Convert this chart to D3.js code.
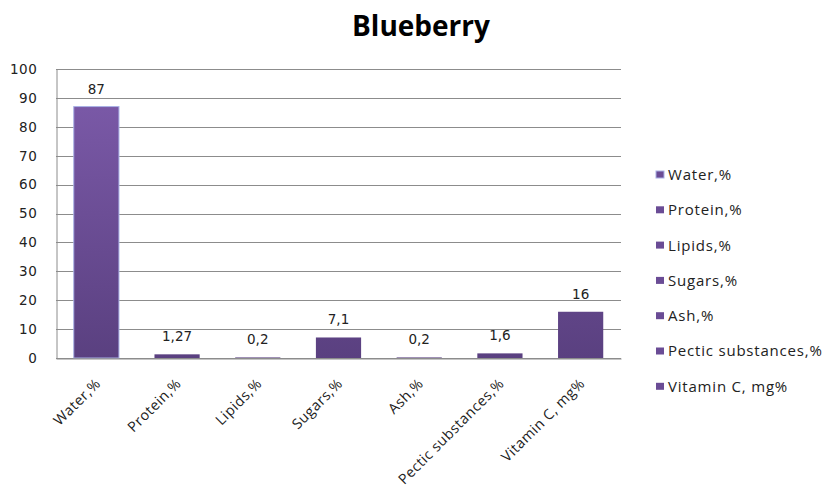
<!DOCTYPE html>
<html>
<head>
<meta charset="utf-8">
<script src="https://cdn.jsdelivr.net/npm/d3@7"></script>
<style>
  html, body { margin: 0; padding: 0; background: #fff; }
  svg { display: block; }
</style>
</head>
<body>
<svg id="chart" width="826" height="493"></svg>
<script>
// Blueberry composition
const categories = ["Water,%", "Protein,%", "Lipids,%", "Sugars,%", "Ash,%", "Pectic substances,%", "Vitamin C, mg%"];
const values = [87, 1.27, 0.2, 7.1, 0.2, 1.6, 16];
const valueLabels = ["87", "1,27", "0,2", "7,1", "0,2", "1,6", "16"];
const yTicks = [0, 10, 20, 30, 40, 50, 60, 70, 80, 90, 100];

const svg = d3.select("#chart");
const margin = { left: 56, right: 205, top: 69, bottom: 135 };
const W = 826, H = 493;

const x = d3.scaleBand().domain(categories).range([margin.left, W - margin.right]).paddingInner(0.44).paddingOuter(0.22);
const y = d3.scaleLinear().domain([0, 100]).range([H - margin.bottom, margin.top]);

// vertical gradient shared by all bars
const defs = svg.append("defs");
const grad = defs.append("linearGradient").attr("id", "barGrad").attr("gradientUnits", "userSpaceOnUse")
  .attr("x1", 0).attr("y1", y(100)).attr("x2", 0).attr("y2", y(0));
grad.append("stop").attr("offset", "0%").attr("stop-color", "#7e5cac");
grad.append("stop").attr("offset", "100%").attr("stop-color", "#5a4080");

// title
svg.append("text").attr("x", 421).attr("y", 36).attr("text-anchor", "middle")
  .attr("font-family", "'Open Sans', sans-serif").attr("font-weight", "bold").attr("font-size", 28)
  .attr("fill", "#000").text("Blueberry");

// gridlines
svg.append("g").selectAll("line").data(yTicks).join("line")
  .attr("x1", margin.left).attr("x2", W - margin.right)
  .attr("y1", d => Math.round(y(d)) + 0.5).attr("y2", d => Math.round(y(d)) + 0.5)
  .attr("stroke", "#8c8c8c").attr("stroke-width", 1);

// y axis
const yAxis = d3.axisLeft(y).tickValues(yTicks).tickSize(0).tickPadding(19);
const gy = svg.append("g").attr("transform", `translate(${margin.left + 0.5},0)`).call(yAxis);
gy.select(".domain").attr("stroke", "#8c8c8c");
gy.selectAll("text").attr("font-family", "'DejaVu Sans', sans-serif").attr("font-size", 13.5)
  .attr("letter-spacing", 0.6).attr("fill", "#222");
gy.selectAll(".tick line").remove();

// bars
svg.append("g").selectAll("rect").data(values).join("rect")
  .attr("x", (d, i) => x(categories[i]))
  .attr("width", x.bandwidth())
  .attr("y", d => y(d))
  .attr("height", d => y(0) - y(d))
  .attr("fill", "url(#barGrad)")
  .attr("stroke", (d, i) => i === 0 ? "#a9b0e6" : "none")
  .attr("stroke-width", 1);

// value labels
svg.append("g").selectAll("text").data(values).join("text")
  .attr("x", (d, i) => x(categories[i]) + x.bandwidth() / 2)
  .attr("y", d => y(d) - 13)
  .attr("text-anchor", "middle")
  .attr("font-family", "'DejaVu Sans', sans-serif").attr("font-size", 13.5).attr("fill", "#222")
  .text((d, i) => valueLabels[i]);

// x axis with rotated category labels
const xAxis = d3.axisBottom(x).tickSize(0).tickPadding(0);
const gx = svg.append("g").attr("transform", `translate(0,${Math.round(y(0)) + 0.5})`).call(xAxis);
gx.select(".domain").attr("stroke", "#8c8c8c");
gx.selectAll("text")
  .attr("font-family", "'Open Sans', sans-serif").attr("font-size", 14.3).attr("letter-spacing", 0.5)
  .attr("fill", "#222")
  .attr("text-anchor", "end")
  .attr("dy", 0)
  .attr("transform", "translate(5,26) rotate(-45)");

// legend
const leg = svg.append("g").attr("transform", "translate(656,0)");
const rowY = i => 174.5 + i * 35.3;
leg.selectAll("rect").data(categories).join("rect")
  .attr("x", 0).attr("y", (d, i) => rowY(i) - 3.5).attr("width", 8).attr("height", 7)
  .attr("fill", "#6a4c95")
  .attr("stroke", (d, i) => i === 0 ? "#a9b0e6" : "none");
leg.selectAll("text").data(categories).join("text")
  .attr("x", 12).attr("y", (d, i) => rowY(i)).attr("dy", "0.36em")
  .attr("font-family", "'Open Sans', sans-serif").attr("font-size", 15).attr("letter-spacing", 0.8)
  .attr("fill", "#222")
  .text(d => d);
</script>
</body>
</html>
